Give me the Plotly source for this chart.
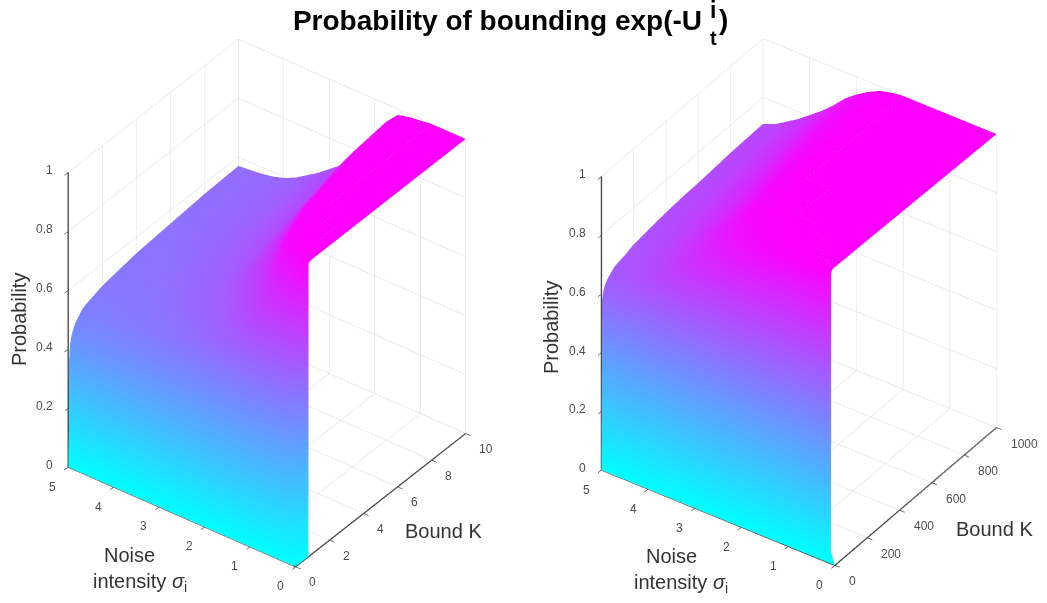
import numpy as np
import plotly.graph_objects as go

# ---- left panel data: rows = bound K, columns = noise intensity
left_K = [0, .02, .05, .1, .2, .4, .75, .77, 1, 1.5, 2, 3, 4, 5, 6, 8, 10]
left_sigma = [0, .25, .5, .75, 1, 1.25, 1.5, 1.75, 2, 2.25, 2.5, 2.75, 3, 3.25, 3.5, 3.75, 4, 4.25, 4.5, 5]
left_prob = [
    [0] * 20,
    [0, .02, .05, .08, .1, .12, .14, .145, .15, .15, .15, .165, .18, .19, .2, .21, .22, .23, .24, .25],
    [0, .05, .1, .15, .18, .2, .22, .23, .24, .245, .25, .265, .28, .29, .3, .31, .32, .33, .34, .36],
    [0, .1, .16, .22, .26, .28, .3, .31, .32, .325, .33, .345, .36, .365, .37, .38, .39, .395, .4, .41],
    [0, .2, .28, .34, .38, .4, .41, .415, .42, .42, .42, .425, .43, .43, .43, .435, .44, .44, .44, .44],
    [0, .45, .52, .56, .58, .57, .55, .535, .52, .51, .5, .495, .49, .485, .48, .478, .475, .472, .47, .47],
    [0, .88, .8, .75, .74, .7, .66, .63, .6, .58, .56, .545, .53, .522, .515, .51, .505, .502, .5, .495],
    [1, .9, .81, .76, .745, .705, .665, .635, .605, .585, .565, .55, .535, .527, .52, .515, .51, .507, .505, .497],
    [1, .97, .9, .83, .78, .73, .69, .655, .62, .6, .58, .56, .545, .535, .525, .52, .515, .512, .51, .505],
    [1, .995, .985, .97, .88, .79, .73, .69, .655, .625, .6, .585, .57, .557, .545, .537, .53, .525, .52, .515],
    [1, 1, .995, .985, .95, .85, .77, .72, .68, .65, .625, .607, .59, .575, .56, .55, .54, .535, .53, .525],
    [1, 1, 1, .995, .985, .93, .85, .79, .74, .7, .66, .635, .61, .595, .58, .57, .56, .552, .545, .535],
    [1, 1, 1, 1, .99, .97, .89, .83, .78, .73, .68, .655, .63, .612, .595, .582, .57, .562, .555, .545],
    [1, 1, 1, 1, .995, .98, .92, .86, .81, .755, .7, .672, .645, .625, .605, .592, .58, .572, .565, .55],
    [1, 1, 1, 1, .995, .985, .95, .89, .83, .775, .715, .687, .66, .637, .615, .6, .585, .577, .57, .555],
    [1, 1, 1, 1, .995, .99, .97, .925, .87, .805, .74, .707, .675, .65, .625, .61, .595, .585, .575, .565],
    [1, 1, 1, 1, .995, .99, .98, .94, .885, .83, .765, .725, .695, .665, .64, .615, .597, .585, .578, .57],
]

# ---- right panel data
right_K = [0, .5, 1, 2, 5, 10, 20, 40, 80, 150, 200, 300, 400, 500, 600, 800, 1000]
right_sigma = [.25, .5, .75, 1, 1.5, 2, 2.25, 2.5, 2.75, 3, 3.25, 3.5, 3.75, 4, 4.25, 4.5, 4.75, 5]
right_edge_sigma = [0, .085, .085, .084, .084, .083, .082, .08, .077, .072, .068, .06, .051, .043, .034, .017, 0]
right_prob = [
    [0] * 19,
    [.04, .04, .05, .06, .07, .09, .11, .12, .13, .14, .15, .16, .17, .18, .19, .195, .2, .21, .22],
    [.98, .97, .95, .93, .9, .85, .79, .76, .73, .705, .68, .655, .63, .61, .59, .57, .55, .525, .5],
    [.99, .99, .98, .97, .95, .91, .87, .84, .81, .78, .75, .72, .69, .665, .64, .62, .6, .58, .556],
    [.995, .99, .985, .98, .96, .93, .89, .86, .83, .8, .77, .74, .71, .685, .66, .64, .62, .6, .58],
    [1, .995, .99, .985, .97, .95, .91, .88, .85, .82, .79, .76, .73, .705, .68, .655, .63, .615, .6],
    [1, 1, .995, .99, .98, .96, .93, .9, .87, .84, .81, .78, .75, .722, .695, .672, .65, .635, .62],
    [1, 1, 1, .995, .99, .975, .95, .92, .89, .86, .83, .8, .77, .74, .71, .687, .665, .65, .635],
    [1, 1, 1, 1, .995, .985, .97, .945, .92, .885, .85, .818, .785, .755, .725, .702, .68, .667, .655],
    [1, 1, 1, 1, 1, .995, .985, .965, .945, .91, .875, .838, .8, .77, .74, .715, .69, .678, .665],
    [1, 1, 1, 1, 1, 1, .99, .975, .955, .92, .885, .85, .81, .78, .75, .725, .7, .687, .675],
    [1, 1, 1, 1, 1, 1, .995, .985, .965, .93, .89, .855, .82, .79, .76, .735, .71, .697, .683],
    [1, 1, 1, 1, 1, 1, 1, .99, .97, .94, .905, .865, .83, .8, .77, .745, .72, .705, .69],
    [1, 1, 1, 1, 1, 1, 1, .995, .975, .95, .915, .875, .84, .81, .78, .752, .725, .71, .695],
    [1, 1, 1, 1, 1, 1, 1, .995, .98, .955, .925, .885, .85, .815, .785, .757, .73, .713, .697],
    [1, 1, 1, 1, 1, 1, 1, .995, .985, .965, .94, .905, .865, .83, .8, .77, .74, .723, .706],
    [1, 1, 1, 1, 1, 1, 1, .995, .985, .965, .94, .91, .87, .835, .805, .775, .75, .725, .71],
]

sigma_ticks = [0, 1, 2, 3, 4, 5]
left_K_ticks = [0, 2, 4, 6, 8, 10]
right_K_ticks = [0, 200, 400, 600, 800, 1000]
prob_ticks = [0, .2, .4, .6, .8, 1]

COOL = [[0, "#00ffff"], [1, "#ff00ff"]]
LIGHT = dict(ambient=1, diffuse=0, specular=0, roughness=1, fresnel=0)
FONT = "Liberation Sans"

fig = go.Figure()
fig.add_trace(go.Surface(
    x=left_K, y=left_sigma, z=np.array(left_prob).T, scene="scene",
    colorscale=COOL, cmin=0, cmax=1, showscale=False, lighting=LIGHT, hoverinfo="skip"))

# right panel: first sigma column is a slightly slanted edge
ny = len(right_sigma) + 1
S = np.array([[e] + right_sigma for e in right_edge_sigma])
Kg = np.array([[k] * ny for k in right_K])
fig.add_trace(go.Surface(
    x=Kg, y=S, z=np.array(right_prob), scene="scene2",
    colorscale=COOL, cmin=0, cmax=1, showscale=False, lighting=LIGHT, hoverinfo="skip"))


def axis(rng, ticks):
    return dict(range=rng, autorange=False, tickmode="array", tickvals=ticks,
                ticktext=[f"{t:g}" for t in ticks], title=dict(text=""),
                showbackground=False, showgrid=True, gridcolor="#d9d9d9", gridwidth=1,
                zeroline=False, showline=True, linecolor="#484848", linewidth=3,
                ticks="outside", ticklen=6, tickcolor="#404040", tickwidth=1.5,
                showticklabels=False, showspikes=False)


def eye(c, t, se, R):
    ce = (1 - se * se) ** .5
    return dict(x=-c * ce * R, y=-t * ce * R, z=se * R)


def tick_labels(K_ticks):
    """Tick labels pinned to the data position of each tick on the visible box edges."""
    out = []
    base = dict(showarrow=False, font=dict(family=FONT, size=12, color="#4d4d4d"))
    for v in prob_ticks:
        out.append(dict(x=0, y=5, z=v, text=f"{v:g}", xanchor="right", yanchor="middle",
                        xshift=-13, yshift=2, **base))
    for v in sigma_ticks:
        out.append(dict(x=0, y=v, z=0, text=f"{v:g}", xanchor="center", yanchor="middle",
                        xshift=-15, yshift=-20, **base))
    for v in K_ticks:
        out.append(dict(x=v, y=0, z=0, text=f"{v:g}", xanchor="left", yanchor="middle",
                        xshift=12, yshift=-16, **base))
    return out


W, H = 1047, 603
fig.update_layout(
    width=W, height=H, margin=dict(l=0, r=0, t=0, b=0), paper_bgcolor="white",
    showlegend=False,
    title=dict(text="<b>Probability of bounding exp(-U</b>", x=702 / W, xanchor="right",
               y=1 - 20 / H, yanchor="middle", font=dict(family=FONT, size=28, color="black")),
    scene=dict(domain=dict(x=[26.5 / W, 506.5 / W], y=[1 - 586.5 / H, 1 - 18.5 / H]),
               xaxis=axis([0, 10], left_K_ticks), yaxis=axis([0, 5], sigma_ticks),
               zaxis=axis([0, 1], prob_ticks), aspectmode="manual",
               aspectratio=dict(x=1, y=1, z=1.28), annotations=tick_labels(left_K_ticks),
               camera=dict(projection=dict(type="orthographic"), up=dict(x=0, y=0, z=1),
                           center=dict(x=0, y=0, z=0), eye=eye(.8007, .599, .586, 2.0))),
    scene2=dict(domain=dict(x=[559 / W, 1039 / W], y=[1 - 586 / H, 1 - 18 / H]),
                xaxis=axis([0, 1000], right_K_ticks), yaxis=axis([0, 5], sigma_ticks),
                zaxis=axis([0, 1], prob_ticks), aspectmode="manual",
                aspectratio=dict(x=1, y=1, z=1.28), annotations=tick_labels(right_K_ticks),
                camera=dict(projection=dict(type="orthographic"), up=dict(x=0, y=0, z=1),
                            center=dict(x=0, y=0, z=0), eye=eye(.822, .569, .59, 2.0))),
)


def note(text, x, y, size=20, rot=0, color="#333333"):
    fig.add_annotation(text=text, x=x / W, y=1 - y / H, xref="paper", yref="paper", showarrow=False,
                       textangle=rot, xanchor="center", yanchor="middle",
                       font=dict(family=FONT, size=size, color=color))


note("<b>i</b>", 713, 10, 23, color="black")
note("<b>t</b>", 713, 38, 20, color="black")
note("<b>)</b>", 723, 20, 28, color="black")
note("Probability", 19, 320, rot=-90)
note("Probability", 551, 328, rot=-90)
note("Noise", 129, 555)
note("intensity <i>σ</i><sub>i</sub>", 140, 582)
note("Noise", 671, 556)
note("intensity <i>σ</i><sub>i</sub>", 681, 583)
note("Bound K", 443, 531)
note("Bound K", 994, 529)

fig.write_html("out.html", config={"displayModeBar": False},
               post_script="document.body.style.margin='0';document.documentElement.style.overflow='hidden';")
